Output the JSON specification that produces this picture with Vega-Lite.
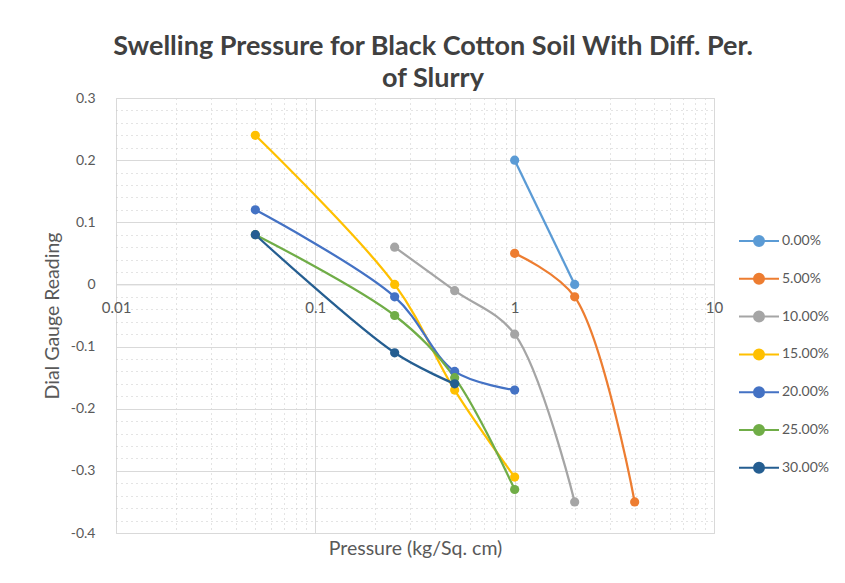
{
  "$schema": "https://vega.github.io/schema/vega-lite/v6.json",
  "width": 598,
  "height": 435,
  "autosize": {"type": "none"},
  "padding": {"left": 116, "top": 98, "right": 131, "bottom": 50},
  "background": "white",
  "title": {
    "text": ["Swelling Pressure for Black Cotton Soil With Diff. Per.", "of Slurry"],
    "font": "Lato",
    "fontSize": 27,
    "fontWeight": "bold",
    "color": "#404040",
    "lineHeight": 32,
    "anchor": "middle",
    "dx": 18,
    "offset": -2
  },
  "config": {
    "view": {"stroke": "#d9d9d9", "strokeWidth": 1},
    "axis": {
      "labelFont": "Lato",
      "titleFont": "Lato",
      "labelColor": "#595959",
      "titleColor": "#595959",
      "labelFontSize": 14,
      "titleFontSize": 19.5,
      "titleFontWeight": "normal"
    },
    "legend": {"labelFont": "Lato", "labelColor": "#595959", "labelFontSize": 14}
  },
  "data": {
    "values": [
      {"series": "0.00%", "pressure": 1, "reading": 0.2},
      {"series": "0.00%", "pressure": 2, "reading": 0.0},
      {"series": "5.00%", "pressure": 1, "reading": 0.05},
      {"series": "5.00%", "pressure": 2, "reading": -0.02},
      {"series": "5.00%", "pressure": 4, "reading": -0.35},
      {"series": "10.00%", "pressure": 0.25, "reading": 0.06},
      {"series": "10.00%", "pressure": 0.5, "reading": -0.01},
      {"series": "10.00%", "pressure": 1, "reading": -0.08},
      {"series": "10.00%", "pressure": 2, "reading": -0.35},
      {"series": "15.00%", "pressure": 0.05, "reading": 0.24},
      {"series": "15.00%", "pressure": 0.25, "reading": 0.0},
      {"series": "15.00%", "pressure": 0.5, "reading": -0.17},
      {"series": "15.00%", "pressure": 1, "reading": -0.31},
      {"series": "20.00%", "pressure": 0.05, "reading": 0.12},
      {"series": "20.00%", "pressure": 0.25, "reading": -0.02},
      {"series": "20.00%", "pressure": 0.5, "reading": -0.14},
      {"series": "20.00%", "pressure": 1, "reading": -0.17},
      {"series": "25.00%", "pressure": 0.05, "reading": 0.08},
      {"series": "25.00%", "pressure": 0.25, "reading": -0.05},
      {"series": "25.00%", "pressure": 0.5, "reading": -0.15},
      {"series": "25.00%", "pressure": 1, "reading": -0.33},
      {"series": "30.00%", "pressure": 0.05, "reading": 0.08},
      {"series": "30.00%", "pressure": 0.25, "reading": -0.11},
      {"series": "30.00%", "pressure": 0.5, "reading": -0.16}
    ]
  },
  "encoding": {
    "x": {
      "field": "pressure",
      "type": "quantitative",
      "scale": {"type": "log", "domain": [0.01, 10], "nice": false},
      "axis": {
        "title": "Pressure (kg/Sq. cm)",
        "values": [0.01, 0.02, 0.03, 0.04, 0.05, 0.06, 0.07, 0.08, 0.09, 0.1, 0.2, 0.3, 0.4, 0.5, 0.6, 0.7, 0.8, 0.9, 1, 2, 3, 4, 5, 6, 7, 8, 9, 10],
        "labelExpr": "abs(log(datum.value)/LN10 - round(log(datum.value)/LN10)) < 1e-6 ? format(datum.value, '~g') : ''",
        "offset": -248.57,
        "ticks": false,
        "tickSize": 0,
        "labelFontSize": 15,
        "labelPadding": 16,
        "labelAngle": 0,
        "domainColor": "#d9d9d9",
        "domainWidth": 1,
        "grid": true,
        "gridColor": {"condition": {"test": "abs(log(datum.value)/LN10 - round(log(datum.value)/LN10)) < 1e-6", "value": "#d9d9d9"}, "value": "#c8c8c8"},
        "gridDash": {"condition": {"test": "abs(log(datum.value)/LN10 - round(log(datum.value)/LN10)) < 1e-6", "value": []}, "value": [1, 4]},
        "titleY": 264,
        "titleBaseline": "middle",
        "labelOverlap": false,
        "labelFlush": false
      }
    },
    "y": {
      "field": "reading",
      "type": "quantitative",
      "scale": {"domain": [-0.4, 0.3], "nice": false, "zero": false},
      "axis": {
        "title": "Dial Gauge Reading",
        "values": [-0.4, -0.38, -0.36, -0.34, -0.32, -0.3, -0.28, -0.26, -0.24, -0.22, -0.2, -0.18, -0.16, -0.14, -0.12, -0.1, -0.08, -0.06, -0.04, -0.02, 0, 0.02, 0.04, 0.06, 0.08, 0.1, 0.12, 0.14, 0.16, 0.18, 0.2, 0.22, 0.24, 0.26, 0.28, 0.3],
        "labelExpr": "abs(datum.value*10 - round(datum.value*10)) < 1e-6 ? (datum.value == 0 ? '0' : (datum.value < 0 ? '-' : '') + format(abs(datum.value), '.1f')) : ''",
        "domain": false,
        "ticks": false,
        "tickSize": 0,
        "labelPadding": 21,
        "grid": true,
        "gridColor": {"condition": {"test": "abs(datum.value*10 - round(datum.value*10)) < 1e-6", "value": "#d9d9d9"}, "value": "#c8c8c8"},
        "gridDash": {"condition": {"test": "abs(datum.value*10 - round(datum.value*10)) < 1e-6", "value": []}, "value": [1, 4]},
        "titlePadding": 8,
        "labelOverlap": false
      }
    },
    "color": {
      "field": "series",
      "type": "nominal",
      "scale": {
        "domain": ["0.00%", "5.00%", "10.00%", "15.00%", "20.00%", "25.00%", "30.00%"],
        "range": ["#5B9BD5", "#ED7D31", "#A5A5A5", "#FFC000", "#4472C4", "#70AD47", "#255E91"]
      },
      "legend": {
        "title": null,
        "orient": "none",
        "legendX": 622,
        "legendY": 122,
        "symbolType": "M-1,0L1,0M-0.25,0A0.25,0.25 0 1,0 0.25,0A0.25,0.25 0 1,0 -0.25,0",
        "symbolSize": 1600,
        "symbolStrokeWidth": 2,
        "rowPadding": 7.8,
        "labelOffset": 2
      }
    }
  },
  "layer": [
    {
      "mark": {"type": "line", "interpolate": "catmull-rom", "strokeWidth": 2.25}
    },
    {
      "mark": {"type": "point", "filled": true, "size": 85, "opacity": 1}
    }
  ]
}
